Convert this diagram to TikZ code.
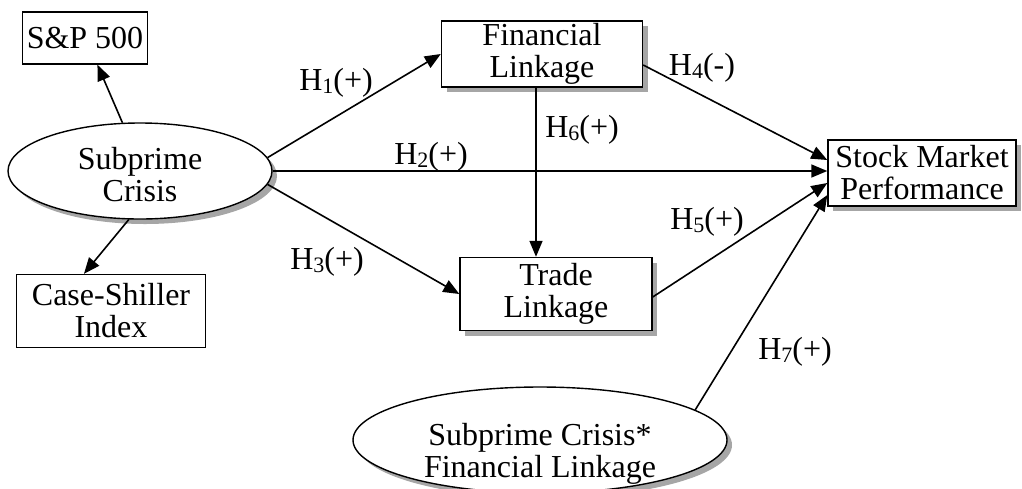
\documentclass[tikz,border=0pt]{standalone}
\usepackage{fontspec}
\setmainfont{Liberation Serif}
\usetikzlibrary{arrows.meta,shapes.geometric,shadows}

\newcommand{\hyp}[2]{H\raisebox{-0.2ex}{\fontsize{11}{11}\selectfont #1}(#2)}

\tikzset{
  box/.style={draw, line width=0.7pt, fill=white, align=center, inner sep=0pt},
  shadowed/.style={drop shadow={shadow xshift=2.5pt, shadow yshift=-2.5pt, fill=black!35, opacity=1}},
  latent/.style={ellipse, draw, line width=0.7pt, fill=white, align=center, inner sep=0pt, shadowed},
  link/.style={line width=0.8pt, -{Triangle[length=8pt,width=6.5pt]}}
}

\begin{document}
\begin{tikzpicture}[x=0.5pt, y=-0.5pt, font=\fontsize{16}{16}\selectfont]
  \useasboundingbox (0,0) rectangle (1022,488);
  % observed indicators
  \node[box, minimum width=62.5pt, minimum height=26pt] (sp) at (85,38) {S\&P 500};
  \node[box, minimum width=94.5pt, minimum height=36.5pt] (case) at (111,311) {Case-Shiller\\Index};
  % constructs
  \node[latent, minimum width=132pt, minimum height=48pt,
        label={[align=center, yshift=-2pt]center:{Subprime\\Crisis}}] (sc) at (140,171) {};
  \node[box, shadowed, minimum width=100.5pt, minimum height=33pt] (fin) at (542,54) {Financial\\Linkage};
  \node[box, shadowed, minimum width=96pt, minimum height=36.5pt] (trade) at (556,294) {Trade\\Linkage};
  \node[box, shadowed, minimum width=94pt, minimum height=33pt] (stock) at (922,173) {Stock Market\\Performance};
  \node[latent, minimum width=187pt, minimum height=53pt,
        label={[align=center, yshift=-7pt]center:{Subprime Crisis*\\Financial Linkage}}] (ia) at (540,440) {};

  \draw[link] (sc.110) -- (sp.-65);
  \draw[link] (sc.-103) -- (case.126);
  % hypothesised paths
  \draw[link] (sc.6) -- (fin.west);
  \draw[link] (sc.east) -- (sc.east -| stock.west);
  \draw[link] (sc.-6) -- (trade.west);
  \draw[link] ([xshift=-3pt]fin.south) -- ([xshift=-3pt]fin.south |- trade.north);
  \draw[link] ([yshift=-5.5pt]fin.east) -- ([yshift=6.5pt]stock.west);
  \draw[link] ([yshift=-1.5pt]trade.east) -- ([yshift=-5pt]stock.west);
  \draw[link] (ia.11) -- ([yshift=-11pt]stock.west);

  \node (h1) at (336,83) {\hyp{1}{+}};
  \node (h2) at (431,157) {\hyp{2}{+}};
  \node (h3) at (327,262) {\hyp{3}{+}};
  \node (h4) at (702,68) {\hyp{4}{-}};
  \node (h5) at (707,222) {\hyp{5}{+}};
  \node (h6) at (582,130) {\hyp{6}{+}};
  \node (h7) at (795,352) {\hyp{7}{+}};
\end{tikzpicture}
\end{document}
